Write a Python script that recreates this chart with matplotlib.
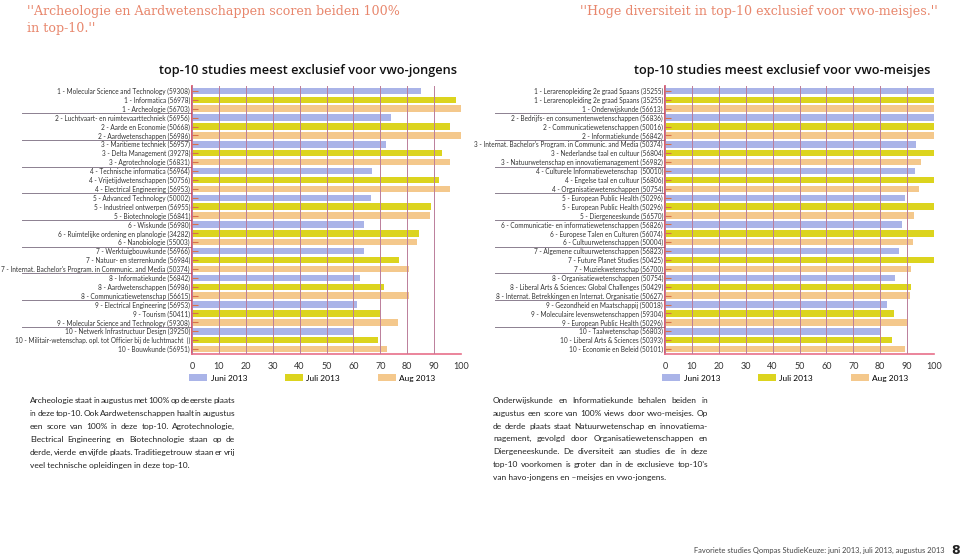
import matplotlib
matplotlib.use("Agg")
import matplotlib.pyplot as plt
from matplotlib.patches import Patch

# months cycle through the rows: Juni, Juli, Aug, Juni, ...
MONTHS = ["Juni 2013", "Juli 2013", "Aug 2013"]
MONTH_COLORS = ["#aab4e8", "#dcd41e", "#f4c88c"]

BOYS_LABELS = [
    "1 - Molecular Science and Technology (59308)",
    "1 - Informatica (56978)",
    "1 - Archeologie (56703)",
    "2 - Luchtvaart- en ruimtevaarttechniek (56956)",
    "2 - Aarde en Economie (50668)",
    "2 - Aardwetenschappen (56986)",
    "3 - Maritieme techniek (56957)",
    "3 - Delta Management (39278)",
    "3 - Agrotechnologie (56831)",
    "4 - Technische informatica (56964)",
    "4 - Vrijetijdwetenschappen (50756)",
    "4 - Electrical Engineering (56953)",
    "5 - Advanced Technology (50002)",
    "5 - Industrieel ontwerpen (56955)",
    "5 - Biotechnologie (56841)",
    "6 - Wiskunde (56980)",
    "6 - Ruimtelijke ordening en planologie (34282)",
    "6 - Nanobiologie (55003)",
    "7 - Werktuigbouwkunde (56966)",
    "7 - Natuur- en sterrenkunde (56984)",
    "7 - Internat. Bachelor's Program. in Communic. and Media (50374)",
    "8 - Informatiekunde (56842)",
    "8 - Aardwetenschappen (56986)",
    "8 - Communicatiewetenschap (56615)",
    "9 - Electrical Engineering (56953)",
    "9 - Tourism (50411)",
    "9 - Molecular Science and Technology (59308)",
    "10 - Netwerk Infrastructuur Design (39250)",
    "10 - Militair-wetenschap. opl. tot Officier bij de luchtmacht  ()",
    "10 - Bouwkunde (56951)",
]
BOYS_VALUES = [85, 98, 100, 74, 96, 100, 72, 93, 96, 67, 92, 96, 66.5, 89, 88.5,
               64, 84.5, 83.5, 64, 77, 80.5, 62.5, 71.5, 80.5, 61.5, 70, 76.5, 60, 69, 72.5]

GIRLS_LABELS = [
    "1 - Lerarenopleiding 2e graad Spaans (35255)",
    "1 - Lerarenopleiding 2e graad Spaans (35255)",
    "1 - Onderwijskunde (56613)",
    "2 - Bedrijfs- en consumentenwetenschappen (56836)",
    "2 - Communicatiewetenschappen (50016)",
    "2 - Informatiekunde (56842)",
    "3 - Internat. Bachelor's Program. in Communic. and Media (50374)",
    "3 - Nederlandse taal en cultuur (56804)",
    "3 - Natuurwetenschap en innovatiemanagement (56982)",
    "4 - Culturele Informatiewetenschap  (50010)",
    "4 - Engelse taal en cultuur (56806)",
    "4 - Organisatiewetenschappen (50754)",
    "5 - European Public Health (50296)",
    "5 - European Public Health (50296)",
    "5 - Diergeneeskunde (56570)",
    "6 - Communicatie- en informatiewetenschappen (56826)",
    "6 - Europese Talen en Culturen (56074)",
    "6 - Cultuurwetenschappen (50004)",
    "7 - Algemene cultuurwetenschappen (56823)",
    "7 - Future Planet Studies (50425)",
    "7 - Muziekwetenschap (56700)",
    "8 - Organisatiewetenschappen (50754)",
    "8 - Liberal Arts & Sciences: Global Challenges (50429)",
    "8 - Internat. Betrekkingen en Internat. Organisatie (50627)",
    "9 - Gezondheid en Maatschappij (50018)",
    "9 - Moleculaire levenswetenschappen (59304)",
    "9 - European Public Health (50296)",
    "10 - Taalwetenschap (56803)",
    "10 - Liberal Arts & Sciences (50393)",
    "10 - Economie en Beleid (50101)",
]
GIRLS_VALUES = [100, 100, 100, 100, 100, 100, 93.3, 100, 95, 93, 100, 94.5, 89.3, 100, 92.4,
                88, 100, 92.2, 87, 100, 91.6, 85.6, 91.6, 91.1, 82.6, 85.3, 90.3, 80, 84.5, 89.3]

XTICKS = [0, 10, 20, 30, 40, 50, 60, 70, 80, 90, 100]

QUOTE_BOYS = ["''Archeologie en Aardwetenschappen scoren beiden 100%", "in top-10.''"]
QUOTE_GIRLS = "''Hoge diversiteit in top-10 exclusief voor vwo-meisjes.''"

TEXT_BOYS = [
    "Archeologie staat in augustus met 100% op de eerste plaats",
    "in deze top-10. Ook Aardwetenschappen haalt in augustus",
    "een score van 100% in deze top-10. Agrotechnologie,",
    "Electrical Engineering en Biotechnologie staan op de",
    "derde, vierde en vijfde plaats. Traditiegetrouw staan er vrij",
    "veel technische opleidingen in deze top-10.",
]
TEXT_GIRLS = [
    "Onderwijskunde en Informatiekunde behalen beiden in",
    "augustus een score van 100% views door vwo-meisjes. Op",
    "de derde plaats staat Natuurwetenschap en innovatiema-",
    "nagement, gevolgd door Organisatiewetenschappen en",
    "Diergeneeskunde. De diversiteit aan studies die in deze",
    "top-10 voorkomen is groter dan in de exclusieve top-10's",
    "van havo-jongens en \u2013meisjes en vwo-jongens.",
]

NARROW = ["Lato", "DejaVu Sans"]
W, H = 960, 557


def fx(px):
    return px / W


def fy(py):
    return 1 - py / H


def draw_panel(ax, labels, values):
    n = len(labels)
    colors = [MONTH_COLORS[i % 3] for i in range(n)]
    ax.barh(range(n), values, height=0.72, color=colors, zorder=1)
    ax.set_ylim(n - 0.45, -0.55)
    ax.set_xlim(0, 100)
    ax.set_axisbelow(False)

    ax.set_yticks(range(n))
    ax.set_yticklabels(labels, fontsize=4.7, color="#333333", family=NARROW)
    ax.tick_params(axis="y", direction="in", length=4, width=0.8, color="#d8704a", pad=1.5)
    ax.set_xticks(XTICKS)
    ax.set_xticklabels([str(t) for t in XTICKS], fontsize=6.5, color="#333333", family=NARROW)
    ax.tick_params(axis="x", length=0, pad=6)

    ax.grid(axis="x", color="#bb7d9a", linewidth=0.7)
    for s in ["top", "right"]:
        ax.spines[s].set_visible(False)
    ax.spines["left"].set_color("#d23c55")
    ax.spines["left"].set_linewidth(1.2)
    ax.spines["bottom"].set_color("#e8708a")
    ax.spines["bottom"].set_linewidth(1.2)

    # separators between rank groups in the label area
    tr = ax.get_yaxis_transform()
    for g in range(1, n // 3):
        y = g * 3 - 0.5
        ax.plot([-0.633, 0], [y, y], transform=tr, color="#8c8090",
                linewidth=0.7, clip_on=False)


def justified(fig, lines, x0, x1, y0, dy, **kw):
    r = fig.canvas.get_renderer()
    for i, line in enumerate(lines):
        y = y0 - i * dy
        if i == len(lines) - 1:
            fig.text(x0, y, line, va="baseline", **kw)
            continue
        words = line.split()
        texts, widths = [], []
        for w in words:
            t = fig.text(0, y, w, va="baseline", **kw)
            texts.append(t)
            widths.append(t.get_window_extent(r).width / fig.bbox.width)
        gap = (x1 - x0 - sum(widths)) / (len(words) - 1)
        x = x0
        for t, w in zip(texts, widths):
            t.set_x(x)
            x += w + gap


fig = plt.figure(figsize=(9.6, 5.57), dpi=100)
ax1 = fig.add_axes([fx(192), fy(354), fx(461) - fx(192), fy(86) - fy(354)])
ax2 = fig.add_axes([fx(665), fy(354), fx(934) - fx(665), fy(86) - fy(354)])

draw_panel(ax1, BOYS_LABELS, BOYS_VALUES)
draw_panel(ax2, GIRLS_LABELS, GIRLS_VALUES)

title_kw = dict(fontsize=9.2, fontweight="semibold", family="Open Sans", color="#111111",
                ha="center", va="baseline")
fig.text(fx(308), fy(74), "top-10 studies meest exclusief voor vwo-jongens", **title_kw)
fig.text(fx(782), fy(74), "top-10 studies meest exclusief voor vwo-meisjes", **title_kw)

handles = [Patch(facecolor=c, edgecolor="none") for c in MONTH_COLORS]
for x0 in (189, 662):
    fig.legend(handles, MONTHS, loc="center left", bbox_to_anchor=(fx(x0), fy(378)),
               ncol=3, frameon=False, prop={"family": NARROW, "size": 6},
               handlelength=2.2, handleheight=0.9, handletextpad=0.4,
               columnspacing=4.5, borderaxespad=0, borderpad=0)

quote_kw = dict(fontsize=9.1, color="#e8866c", family="DejaVu Serif", va="baseline")
fig.text(fx(27), fy(15), QUOTE_BOYS[0], **quote_kw)
fig.text(fx(27), fy(32), QUOTE_BOYS[1], **quote_kw)
fig.text(fx(580), fy(15), QUOTE_GIRLS, **quote_kw)

body_kw = dict(fontsize=6.0, color="#222222", family=NARROW)
justified(fig, TEXT_BOYS, fx(30), fx(235), fy(403), 13.0 / H, **body_kw)
justified(fig, TEXT_GIRLS, fx(493), fx(708), fy(403), 12.8 / H, **body_kw)

fig.text(fx(944), fy(553), "Favoriete studies Qompas StudieKeuze: juni 2013, juli 2013, augustus 2013",
         ha="right", va="baseline", fontsize=5.4, color="#444444", family=NARROW)
fig.text(fx(951), fy(554), "8", ha="left", va="baseline", fontsize=9, fontweight="bold",
         color="#222222")

fig.savefig("out.png", dpi=100)
